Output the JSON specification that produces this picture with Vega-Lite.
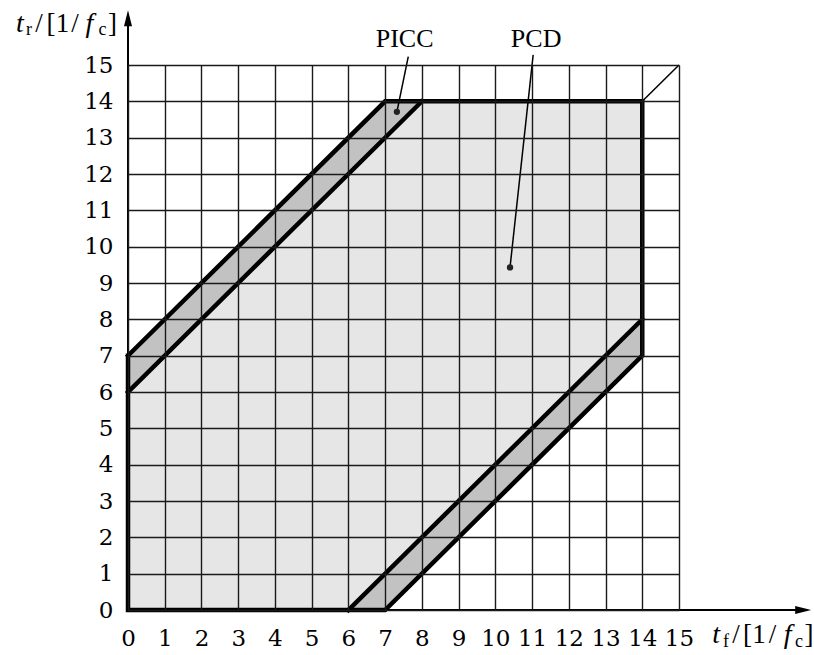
{
  "$schema": "https://vega.github.io/schema/vega-lite/v6.json",
  "width": 551,
  "height": 545,
  "autosize": {"type": "none"},
  "padding": {"left": 128, "top": 65, "right": 135, "bottom": 45},
  "background": "white",
  "config": {"view": {"stroke": null}, "font": "Liberation Serif"},
  "datasets": {
    "fills": [
      {"band": "PCD", "region": "PCD", "x": 0, "y": 0, "y2": 6},
      {"band": "PCD", "region": "PCD", "x": 6, "y": 0, "y2": 12},
      {"band": "PCD", "region": "PCD", "x": 8, "y": 2, "y2": 14},
      {"band": "PCD", "region": "PCD", "x": 14, "y": 8, "y2": 14},
      {"band": "PICC upper", "region": "PICC", "x": 0, "y": 6, "y2": 7},
      {"band": "PICC upper", "region": "PICC", "x": 7, "y": 13, "y2": 14},
      {"band": "PICC upper", "region": "PICC", "x": 8, "y": 14, "y2": 14},
      {"band": "PICC lower", "region": "PICC", "x": 6, "y": 0, "y2": 0},
      {"band": "PICC lower", "region": "PICC", "x": 7, "y": 0, "y2": 1},
      {"band": "PICC lower", "region": "PICC", "x": 14, "y": 7, "y2": 8}
    ],
    "axes": [
      {"x": 0, "y": 0, "x2": 18.2, "y2": 0},
      {"x": 0, "y": 0, "x2": 0, "y2": 16.1}
    ],
    "outline": [
      {"path": "outer", "ord": 1, "x": 0, "y": 7},
      {"path": "outer", "ord": 2, "x": 0, "y": 0},
      {"path": "outer", "ord": 3, "x": 7, "y": 0},
      {"path": "outer", "ord": 4, "x": 14, "y": 7},
      {"path": "outer", "ord": 5, "x": 14, "y": 14},
      {"path": "outer", "ord": 6, "x": 7, "y": 14},
      {"path": "outer", "ord": 7, "x": 0, "y": 7},
      {"path": "upper", "ord": 1, "x": 0, "y": 6},
      {"path": "upper", "ord": 2, "x": 8, "y": 14},
      {"path": "lower", "ord": 1, "x": 6, "y": 0},
      {"path": "lower", "ord": 2, "x": 14, "y": 8}
    ],
    "diag": [
      {"ord": 1, "x": 14, "y": 14},
      {"ord": 2, "x": 15, "y": 15}
    ],
    "leaders": [
      {"label": "PICC", "ord": 1, "x": 7.63, "y": 15.23},
      {"label": "PICC", "ord": 2, "x": 7.32, "y": 13.71},
      {"label": "PCD", "ord": 1, "x": 11.03, "y": 15.28},
      {"label": "PCD", "ord": 2, "x": 10.4, "y": 9.43}
    ],
    "dots": [
      {"label": "PICC", "x": 7.32, "y": 13.71},
      {"label": "PCD", "x": 10.4, "y": 9.43}
    ],
    "labels": [
      {"text": "PICC", "x": 7.53, "y": 15.5},
      {"text": "PCD", "x": 11.11, "y": 15.5}
    ],
    "arrowX": [{"x": 18.38, "y": 0}],
    "arrowY": [{"x": 0, "y": 16.29}],
    "titleVars": [
      {"text": "t", "x": 16.009, "y": -0.908},
      {"text": "f", "x": 17.955, "y": -0.908},
      {"text": "t", "x": -2.94, "y": 15.91},
      {"text": "f", "x": -1.048, "y": 15.91}
    ],
    "titleSubs": [
      {"text": "f", "x": 16.281, "y": -1.018},
      {"text": "c", "x": 18.268, "y": -1.018},
      {"text": "r", "x": -2.695, "y": 15.83},
      {"text": "c", "x": -0.694, "y": 15.83}
    ],
    "titleText": [
      {"text": "/", "x": 16.553, "y": -0.908},
      {"text": "[", "x": 16.866, "y": -0.908},
      {"text": "1", "x": 17.18, "y": -0.908},
      {"text": "/", "x": 17.547, "y": -0.908},
      {"text": "]", "x": 18.54, "y": -0.908},
      {"text": "/", "x": -2.423, "y": 15.91},
      {"text": "[", "x": -2.096, "y": 15.91},
      {"text": "1", "x": -1.783, "y": 15.91},
      {"text": "/", "x": -1.443, "y": 15.91},
      {"text": "]", "x": -0.422, "y": 15.91}
    ]
  },
  "encoding": {
    "x": {
      "field": "x",
      "type": "quantitative",
      "scale": {"domain": [0, 15], "nice": false, "zero": false},
      "axis": {
        "values": [0, 1, 2, 3, 4, 5, 6, 7, 8, 9, 10, 11, 12, 13, 14, 15],
        "grid": true,
        "gridColor": "#1a1a1a",
        "gridWidth": 1.4,
        "domain": false,
        "ticks": false,
        "labelFont": "DejaVu Serif",
        "labelFontSize": 23,
        "labelColor": "black",
        "labelBaseline": "alphabetic",
        "labelPadding": 35,
        "labelFlush": false,
        "labelOverlap": false,
        "title": null,
        "zindex": 1
      }
    },
    "y": {
      "field": "y",
      "type": "quantitative",
      "scale": {"domain": [0, 15], "nice": false, "zero": false},
      "axis": {
        "values": [0, 1, 2, 3, 4, 5, 6, 7, 8, 9, 10, 11, 12, 13, 14, 15],
        "grid": true,
        "gridColor": "#1a1a1a",
        "gridWidth": 1.4,
        "domain": false,
        "ticks": false,
        "labelFont": "DejaVu Serif",
        "labelFontSize": 23,
        "labelColor": "black",
        "labelBaseline": "middle",
        "labelPadding": 15,
        "labelFlush": false,
        "labelOverlap": false,
        "title": null,
        "zindex": 1
      }
    }
  },
  "layer": [
    {
      "data": {"name": "fills"},
      "mark": {"type": "area", "orient": "vertical", "opacity": 1},
      "encoding": {
        "y2": {"field": "y2"},
        "detail": {"field": "band"},
        "color": {
          "field": "region",
          "type": "nominal",
          "scale": {"domain": ["PCD", "PICC"], "range": ["#e6e6e6", "#c2c2c2"]},
          "legend": null
        }
      }
    },
    {
      "data": {"name": "axes"},
      "mark": {"type": "rule", "color": "black", "strokeWidth": 2},
      "encoding": {"x2": {"field": "x2"}, "y2": {"field": "y2"}}
    },
    {
      "data": {"name": "outline"},
      "mark": {"type": "line", "color": "black", "strokeWidth": 4.5, "strokeJoin": "miter", "strokeCap": "square"},
      "encoding": {
        "detail": {"field": "path"},
        "order": {"field": "ord", "type": "quantitative"}
      }
    },
    {
      "data": {"name": "diag"},
      "mark": {"type": "line", "color": "black", "strokeWidth": 1.5},
      "encoding": {"order": {"field": "ord", "type": "quantitative"}}
    },
    {
      "data": {"name": "leaders"},
      "mark": {"type": "line", "color": "black", "strokeWidth": 1.5},
      "encoding": {
        "detail": {"field": "label"},
        "order": {"field": "ord", "type": "quantitative"}
      }
    },
    {
      "data": {"name": "dots"},
      "mark": {"type": "point", "filled": true, "color": "#222", "size": 40, "opacity": 1}
    },
    {
      "data": {"name": "labels"},
      "mark": {"type": "text", "font": "Liberation Serif", "fontSize": 26, "align": "center", "baseline": "alphabetic", "color": "black"},
      "encoding": {"text": {"field": "text"}}
    },
    {
      "data": {"name": "arrowX"},
      "mark": {"type": "point", "shape": "M-1,-0.5L1,0L-1,0.5Z", "filled": true, "color": "black", "size": 256, "opacity": 1}
    },
    {
      "data": {"name": "arrowY"},
      "mark": {"type": "point", "shape": "M-0.5,1L0,-1L0.5,1Z", "filled": true, "color": "black", "size": 256, "opacity": 1}
    },
    {
      "data": {"name": "titleVars"},
      "mark": {"type": "text", "font": "Liberation Serif", "fontStyle": "italic", "fontSize": 28, "align": "center", "baseline": "alphabetic", "color": "black"},
      "encoding": {"text": {"field": "text"}}
    },
    {
      "data": {"name": "titleSubs"},
      "mark": {"type": "text", "font": "Liberation Serif", "fontSize": 18, "align": "center", "baseline": "alphabetic", "color": "black"},
      "encoding": {"text": {"field": "text"}}
    },
    {
      "data": {"name": "titleText"},
      "mark": {"type": "text", "font": "Liberation Serif", "fontSize": 27, "align": "center", "baseline": "alphabetic", "color": "black"},
      "encoding": {"text": {"field": "text"}}
    }
  ]
}
